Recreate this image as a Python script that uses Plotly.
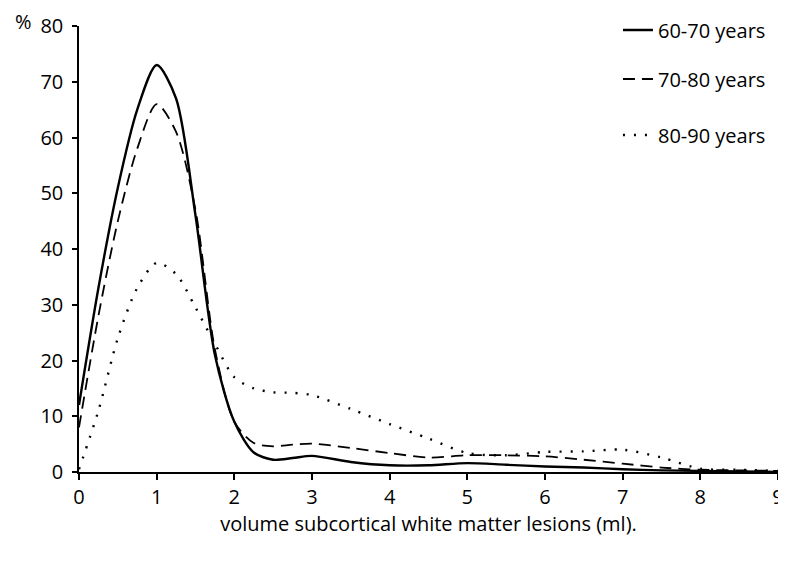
import plotly.graph_objects as go

volume_ml = [0, 0.25, 0.5, 0.75, 1.0, 1.25, 1.5, 1.75, 2.0, 2.25, 2.5, 2.75, 3.0,
             3.5, 4, 4.5, 5, 5.5, 6, 6.5, 7, 7.5, 8, 8.5, 9]
pct_60_70 = [12, 33, 51, 65, 73, 67, 46, 21, 9, 3.5, 2.2, 2.5, 2.9,
             1.8, 1.2, 1.2, 1.6, 1.3, 1.0, 0.8, 0.5, 0.3, 0.2, 0.1, 0.0]
pct_70_80 = [8, 28, 45, 58, 66, 61, 47, 22, 9, 5.2, 4.6, 4.9, 5.1,
             4.3, 3.4, 2.6, 3.0, 3.0, 2.8, 2.2, 1.5, 0.8, 0.4, 0.3, 0.2]
pct_80_90 = [0.5, 11, 24, 33, 37.5, 35.5, 29.5, 23, 17, 15, 14.3, 14.2, 13.8,
             11.3, 8.6, 6.0, 3.4, 3.0, 3.6, 3.7, 4.0, 2.6, 0.6, 0.4, 0.2]
series_names = ["60-70 years", "70-80 years", "80-90 years"]
x_ticks = [0, 1, 2, 3, 4, 5, 6, 7, 8, 9]
y_ticks = [0, 10, 20, 30, 40, 50, 60, 70, 80]

FONT = "'Open Sans', Lato, sans-serif"

fig = go.Figure()
styles = [("solid", 2.4), ("12px,7px", 1.8), ("2px,9px", 2.4)]
legends = ["legend", "legend2", "legend3"]
for ys, name, (dash, w), lg in zip([pct_60_70, pct_70_80, pct_80_90], series_names, styles, legends):
    fig.add_trace(go.Scatter(x=volume_ml, y=ys, mode="lines", name=name,
                             line=dict(color="black", width=w, dash=dash, shape="spline", smoothing=0.8),
                             legend=lg, showlegend=True))

leg_common = dict(bgcolor="rgba(0,0,0,0)", font=dict(family=FONT, size=20, color="black"),
                  xanchor="left", yanchor="middle", xref="container", yref="container")
fig.update_layout(
    width=778, height=545,
    margin=dict(l=71, r=8, t=18, b=81, autoexpand=False),
    paper_bgcolor="white", plot_bgcolor="white",
    font=dict(family=FONT, size=20, color="black"),
    legend=dict(x=0.784, y=0.9596, **leg_common),
    legend2=dict(x=0.784, y=0.8697, **leg_common),
    legend3=dict(x=0.784, y=0.767, **leg_common),
    xaxis=dict(range=[0, 9], tickvals=x_ticks, showgrid=False, zeroline=False, automargin=False,
               showline=True, linecolor="black", linewidth=1.5, ticks="outside",
               ticklen=6, tickwidth=1.5, tickcolor="black", ticklabelstandoff=0,
               ticklabeloverflow="allow",
               tickfont=dict(family=FONT, size=20),
               title=dict(text="volume subcortical white matter lesions (ml).", standoff=7,
                          font=dict(family=FONT, size=20))),
    yaxis=dict(range=[0, 80], tickvals=y_ticks, showgrid=False, zeroline=False, automargin=False,
               showline=True, linecolor="black", linewidth=1.5, ticks="outside",
               ticklen=5, tickwidth=1.5, tickcolor="black", ticklabelstandoff=5,
               ticklabeloverflow="allow",
               tickfont=dict(family=FONT, size=20)),
    annotations=[dict(text="%", xref="paper", yref="paper", x=-0.079, y=1.009,
                      xanchor="center", yanchor="middle", showarrow=False,
                      font=dict(family=FONT, size=20))],
)
fig.write_html("out.html")
